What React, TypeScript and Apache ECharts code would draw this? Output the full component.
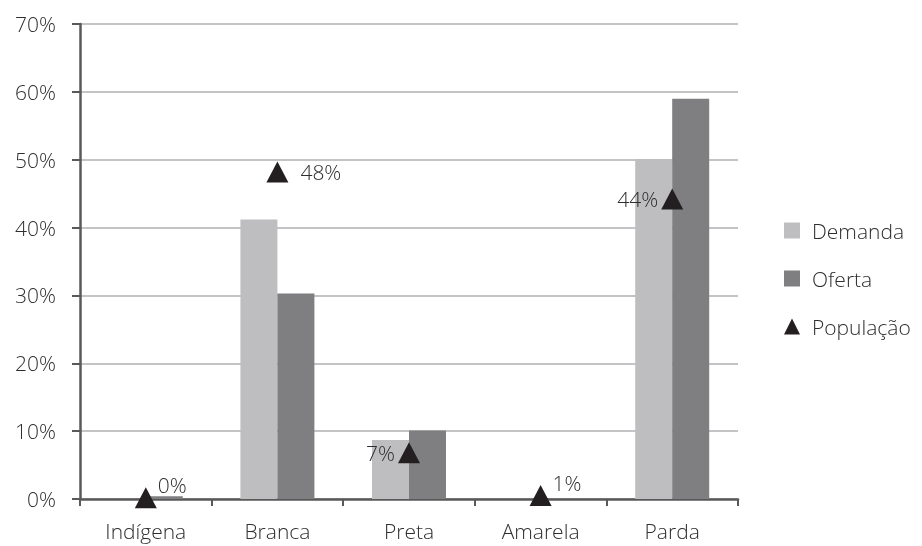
import React, { useEffect, useRef } from "react";
import * as echarts from "echarts";

const categories = ["Indígena", "Branca", "Preta", "Amarela", "Parda"];
const demanda = [0, 41.2, 8.7, 0, 50.1];
const oferta = [0.4, 30.3, 10.1, 0, 59.0];
const populacao = [0.2, 48.2, 6.8, 0.5, 44.2];
const popLabelPos = ["right", "right", "left", "right", "left"];
const yTicks = [0, 10, 20, 30, 40, 50, 60, 70];

const FONT = "'Open Sans', 'Noto Sans', sans-serif";
const TEXT = "#2e2e2e";
const FS = 21;

export default function App() {
  const ref = useRef<HTMLDivElement>(null);
  useEffect(() => {
    if (!ref.current) return;
    const chart = echarts.init(ref.current, null, { renderer: "svg" });
    chart.setOption({
      animation: false,
      textStyle: { fontFamily: FONT, color: TEXT },
      grid: { left: 80, right: 184, top: 24, bottom: 47, containLabel: false },
      legend: {
        orient: "vertical",
        left: 779,
        top: 215,
        itemWidth: 16,
        itemHeight: 16,
        itemGap: 27,
        textStyle: { fontFamily: FONT, fontSize: FS, color: TEXT, fontWeight: 300, padding: [0, 0, 0, 7] },
        data: [
          { name: "Demanda", icon: "rect" },
          { name: "Oferta", icon: "rect" },
          { name: "População", icon: "triangle", itemStyle: { color: "#231f20", opacity: 1 } },
        ],
      },
      xAxis: {
        type: "category",
        data: categories,
        boundaryGap: true,
        axisLine: { lineStyle: { color: "#595959", width: 2.5 } },
        axisTick: { show: true, length: 7, lineStyle: { color: "#595959", width: 2 } },
        axisLabel: { fontFamily: FONT, fontSize: FS, fontWeight: 300, color: TEXT, margin: 21 },
      },
      yAxis: {
        type: "value",
        min: 0,
        max: 70,
        interval: 10,
        axisLine: { show: true, lineStyle: { color: "#595959", width: 2.5 } },
        axisTick: { show: true, length: 8, lineStyle: { color: "#595959", width: 2 } },
        axisLabel: {
          fontFamily: FONT,
          fontSize: FS,
          fontWeight: 300,
          color: TEXT,
          margin: 24,
          formatter: (v: number) => (yTicks.includes(v) ? v + "%" : ""),
        },
        splitLine: { lineStyle: { color: "#c4c4c6", width: 2 } },
      },
      series: [
        {
          name: "Demanda",
          type: "bar",
          data: demanda,
          barWidth: 37,
          barGap: "0%",
          itemStyle: { color: "#bebec0" },
        },
        {
          name: "Oferta",
          type: "bar",
          data: oferta,
          barWidth: 37,
          barGap: "0%",
          itemStyle: { color: "#7f7f82" },
        },
        {
          name: "População",
          type: "scatter",
          symbol: "triangle",
          symbolSize: [22, 21],
          itemStyle: { color: "#231f20", opacity: 1 },
          z: 5,
          data: populacao.map((v, i) => {
            const pos = popLabelPos[i];
            const low = v < 1;
            return {
              value: v,
              label: {
                show: true,
                position: pos,
                distance: pos === "left" ? 3 : low ? 1 : 12,
                offset: low ? [0, -13] : [0, 0],
                formatter: Math.round(v) + "%",
                fontFamily: FONT,
                fontSize: FS,
                fontWeight: 300,
                color: TEXT,
              },
            };
          }),
        },
      ],
    });
    return () => chart.dispose();
  }, []);
  return (
    <div
      ref={ref}
      style={{ position: "fixed", left: 0, top: 0, width: 922, height: 546 }}
    />
  );
}
